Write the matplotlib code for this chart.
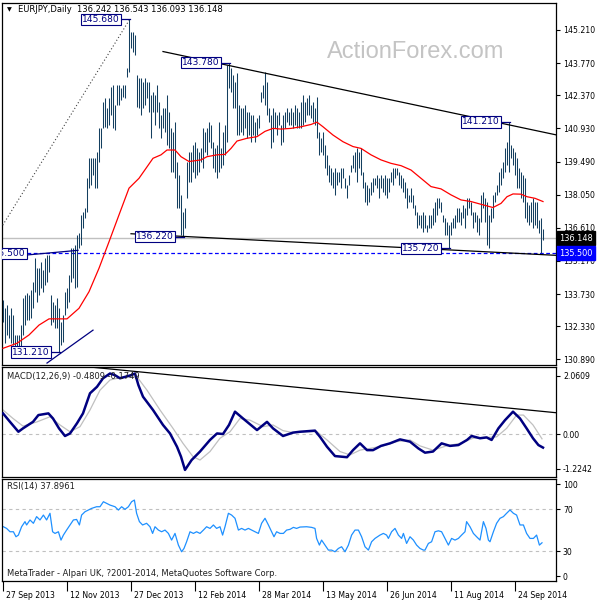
import matplotlib
matplotlib.use('Agg')
from matplotlib import pyplot as plt
from matplotlib.transforms import blended_transform_factory, ScaledTranslation

plt.rcParams['font.family'] = ['DejaVu Sans']

# daily bars (high / low), 27 Sep 2013 .. mid Oct 2014
highs = [
    133.47, 133.11, 133.25, 132.82, 133.11, 132.82, 131.95, 131.95, 131.95, 132.38,
    133.54, 133.69, 133.76, 133.69, 133.91, 134.27, 135.28, 134.85, 134.85, 135.14,
    134.78, 135.28, 135.43, 135.43, 133.69, 133.40, 133.25, 133.54, 133.11, 132.53,
    132.82, 133.83, 133.98, 134.56, 135.72, 135.72, 135.86, 136.30, 136.37, 137.17,
    137.31, 137.46, 138.76, 139.63, 139.63, 139.63, 139.63, 139.92, 140.93, 140.93,
    142.09, 142.24, 141.80, 142.24, 142.75, 142.82, 141.95, 142.82, 142.82, 142.67,
    142.82, 142.82, 143.54, 145.68, 145.14, 145.14, 144.99, 143.25, 143.11,
    143.11, 142.96, 143.11, 142.96, 142.96, 142.38, 142.53, 142.38, 142.82, 142.09,
    141.51, 141.80, 141.80, 142.38, 141.66, 140.93, 140.79, 141.22, 139.49, 138.91,
    138.04, 137.31, 137.46, 139.49, 139.92, 139.92, 140.21, 140.35, 140.06, 139.92,
    140.06, 140.93, 140.79, 140.93, 141.22, 141.08, 140.35, 140.06, 140.21, 141.22,
    140.06, 140.79, 141.08, 143.69, 143.78, 143.54, 143.25, 142.96, 143.33, 141.95,
    141.80, 141.80, 141.95, 141.66, 141.66, 141.51, 141.51, 141.22, 141.37, 141.51,
    142.53, 142.82, 143.40, 142.96, 141.80, 141.51, 141.80, 141.66, 141.51, 141.66,
    141.08, 141.51, 141.66, 141.80, 141.66, 141.80, 141.66, 141.95, 141.80, 141.66,
    142.09, 142.38, 142.09, 142.24, 142.38, 141.95, 142.09, 141.80, 142.31, 140.79,
    140.50, 140.79, 140.21, 139.78, 139.34, 139.20, 139.05, 139.20, 139.05, 139.05,
    139.20, 139.20, 138.76, 138.47, 138.91, 139.34, 139.78, 139.92, 140.06, 139.92,
    140.06, 139.05, 138.62, 138.47, 138.33, 138.62, 138.76, 138.76, 138.91, 138.76,
    138.91, 138.76, 138.91, 138.76, 138.76, 139.05, 139.20, 139.20, 139.20, 139.05,
    138.91, 138.76, 138.62, 138.33, 138.04, 138.33, 138.04, 137.60, 137.31, 137.17,
    137.17, 137.31, 137.17, 136.73, 137.17, 137.17, 137.46, 137.75, 137.89, 137.89,
    137.75, 137.17, 137.02, 136.88, 136.73, 136.88, 137.02, 137.17, 137.46, 137.46,
    137.31, 137.60, 137.46, 137.89, 137.89, 137.75, 137.31, 137.31, 137.17, 137.02,
    138.04, 138.18, 137.89, 137.75, 137.17, 137.46, 138.04, 138.18, 138.47, 139.05,
    139.20, 139.49, 140.06, 140.35, 141.21, 140.21, 140.06, 139.92, 139.63, 139.20,
    139.05, 138.91, 138.76, 137.75, 137.60, 137.75, 137.89, 137.75, 137.75, 136.95,
    137.04, 136.54,
]
lows = [
    132.53, 131.59, 131.95, 131.80, 131.59, 131.51, 131.37, 131.37, 131.44, 131.37,
    131.95, 132.38, 132.60, 132.60, 132.67, 133.11, 133.83, 133.40, 133.69, 133.98,
    133.83, 134.12, 134.27, 134.70, 132.38, 132.53, 132.24, 132.24, 131.21, 131.51,
    131.66, 132.82, 133.11, 133.40, 134.27, 134.41, 133.98, 134.05, 135.72, 135.86,
    136.59, 137.02, 137.31, 138.33, 138.47, 138.91, 138.33, 138.33, 139.49, 140.06,
    140.93, 141.01, 140.93, 141.08, 141.51, 140.93, 140.86, 141.95, 141.95, 142.17,
    142.31, 142.24, 143.18, 143.40, 144.41, 144.27, 144.12, 141.88, 141.80,
    141.51, 141.80, 141.95, 142.24, 141.66, 140.50, 141.66, 141.08, 141.66, 140.93,
    140.50, 140.93, 140.79, 140.21, 140.06, 139.05, 139.05, 138.76, 137.46, 137.46,
    136.30, 136.22, 136.59, 137.89, 138.62, 138.62, 139.05, 138.76, 138.91, 139.05,
    139.49, 139.20, 139.92, 139.78, 140.35, 140.06, 139.20, 139.05, 138.76, 139.05,
    139.20, 139.34, 139.78, 140.35, 142.67, 142.53, 141.80, 141.80, 140.64, 140.64,
    140.79, 140.64, 140.93, 140.50, 140.64, 140.35, 140.64, 140.35, 140.64, 140.93,
    142.09, 142.24, 141.95, 141.51, 141.22, 140.06, 140.35, 140.93, 140.64, 141.08,
    140.21, 140.35, 140.93, 141.22, 141.08, 141.08, 140.93, 141.08, 140.93, 140.93,
    140.93, 141.08, 141.22, 141.51, 141.51, 141.37, 141.22, 141.08, 140.50, 139.78,
    139.92, 139.78, 139.20, 138.91, 138.62, 138.47, 138.33, 138.04, 138.47, 138.62,
    138.33, 138.76, 138.33, 137.89, 138.47, 139.05, 139.20, 139.05, 138.62, 139.20,
    138.91, 138.33, 137.75, 137.60, 137.75, 138.04, 138.18, 138.47, 138.33, 137.89,
    138.33, 138.18, 138.04, 137.89, 138.18, 138.62, 138.47, 138.76, 138.91, 138.47,
    138.33, 138.18, 137.89, 137.46, 137.75, 137.75, 137.46, 137.17, 136.59, 136.73,
    136.59, 136.44, 136.59, 136.44, 136.59, 136.59, 136.73, 136.88, 137.17, 137.46,
    137.31, 136.88, 136.30, 136.30, 135.72, 136.30, 136.59, 136.59, 136.88, 136.88,
    136.73, 137.02, 136.59, 137.17, 137.46, 137.17, 136.59, 136.88, 136.44, 136.30,
    136.88, 137.46, 136.88, 135.86, 135.72, 136.88, 137.02, 137.75, 138.04, 138.18,
    138.47, 138.76, 139.05, 139.34, 139.05, 139.63, 139.34, 138.91, 138.33, 138.33,
    137.89, 137.75, 137.02, 136.88, 136.73, 136.88, 136.59, 136.73, 136.59, 136.38,
    135.50, 136.09,
]

# red moving average
ma_x = [0, 7, 13, 18, 23, 32, 38, 43, 48, 53, 58, 63, 68, 75, 79, 82, 86, 89, 93, 99,
        102, 107, 111, 114, 117, 122, 127, 131, 135, 139, 144, 149, 154, 157, 160, 165,
        170, 175, 179, 184, 189, 194, 199, 204, 209, 214, 219, 224, 229, 234, 239, 242,
        245, 249, 252, 255, 259, 262, 266, 270]
ma_y = [131.37, 131.59, 131.95, 132.38, 132.65, 132.65, 133.11, 133.83, 134.85, 136.0,
        137.17, 138.33, 138.76, 139.63, 139.78, 139.99, 139.99, 139.70, 139.49, 139.56,
        139.70, 139.78, 139.80, 140.06, 140.38, 140.50, 140.57, 140.80, 140.93, 140.90,
        140.93, 141.0, 141.1, 141.2, 141.0, 140.64, 140.35, 140.14, 140.06, 139.78,
        139.56, 139.41, 139.31, 139.12, 138.76, 138.40, 138.30, 138.04, 137.82, 137.75,
        137.63, 137.56, 137.49, 137.67, 137.96, 138.08, 138.07, 137.96, 137.89, 137.75]

# MACD(12,26,9)
macd_x = [0, 3.5, 7.7, 10, 15, 17.7, 22.7, 25, 28, 31, 33.5, 37, 40, 43.5, 47, 50, 53.5,
          56, 58.5, 61, 64, 66, 67.7, 70, 75, 80, 83.5, 87, 89, 91, 94.3, 98.5, 103.5,
          107, 110, 113, 116, 120, 127, 132, 135, 140, 145, 148.5, 156, 158.5, 162, 166,
          172, 175, 178.5, 182, 185, 189, 193.5, 198.5, 203.5, 207.7, 211, 215, 219.3,
          223.5, 227.7, 232, 234.3, 238.5, 241.8, 244.3, 247.7, 251, 255, 258.5, 261.8,
          265, 267.7, 270]
macd_main = [0.73, 0.43, 0.08, 0.2, 0.43, 0.67, 0.73, 0.55, 0.2, -0.07, 0.02, 0.38, 0.73,
             1.44, 1.67, 1.97, 2.14, 2.08, 1.97, 2.02, 2.08, 2.14, 1.73, 1.32, 0.85, 0.32,
             0.02, -0.45, -0.8, -1.27, -0.92, -0.62, -0.21, 0.02, 0.0, 0.32, 0.79, 0.55,
             0.14, 0.43, 0.2, -0.07, 0.05, 0.08, 0.12, -0.1, -0.45, -0.78, -0.82, -0.57,
             -0.33, -0.57, -0.57, -0.42, -0.33, -0.19, -0.27, -0.51, -0.66, -0.62, -0.33,
             -0.42, -0.39, -0.21, -0.07, -0.15, -0.12, -0.21, 0.2, 0.49, 0.79, 0.55, 0.2,
             -0.15, -0.39, -0.48]
sig_x = [0, 5, 10, 17, 23.5, 28.5, 33.5, 38.5, 43.5, 48.5, 53.5, 60, 67, 72, 78.5, 85, 90,
         95, 98.5, 103.5, 108.5, 113.5, 118.5, 123.5, 130, 135, 140, 145, 148.5, 157, 162,
         168.5, 173.5, 178.5, 183.5, 190, 196.8, 203.5, 208.5, 215, 221.8, 228.5, 235,
         241.8, 246.8, 251.8, 256.8, 260.2, 265, 269.5]
macd_signal = [0.85, 0.55, 0.28, 0.43, 0.61, 0.32, 0.08, 0.26, 0.85, 1.55, 1.91, 2.02, 2.02,
               1.55, 0.85, 0.2, -0.33, -0.8, -0.92, -0.62, -0.15, 0.08, 0.55, 0.49, 0.26,
               0.32, 0.12, 0.05, 0.08, 0.08, -0.21, -0.62, -0.74, -0.57, -0.51, -0.42,
               -0.27, -0.21, -0.42, -0.57, -0.42, -0.33, -0.15, -0.12, -0.1, 0.2, 0.67,
               0.67, 0.32, -0.17]

# RSI(14)
rsi_x = [0.2, 1.8, 3.5, 5.2, 6.5, 7.7, 9.3, 11, 11.8, 13.5, 15.2, 16.8, 18.5, 20.2, 21.8,
         23.5, 24.8, 26, 27.7, 29, 30.2, 31.8, 33.5, 35.2, 36.8, 38.2, 39.3, 41, 42.7, 44.3,
         46.8, 48.5, 50.2, 51.8, 53.5, 56, 57.7, 59.3, 61, 62.7, 64.3, 65.7, 66.8, 68.2,
         69.8, 71.8, 73.5, 74.8, 76, 77.7, 79.3, 81, 82.7, 84.3, 86, 87.7, 89.3, 90.5, 91.8,
         93.5, 95.2, 96.8, 98.5, 100.2, 101.8, 103.5, 105.2, 106.8, 108.5, 109.8, 111,
         112.7, 114.3, 116, 117.7, 119.3, 121, 122.7, 124.3, 126, 127.7, 129.3, 131, 132.7,
         134.3, 135.5, 136.8, 138.5, 140.2, 141.8, 143.5, 145.2, 146.8, 148.5,
         151.8, 154.3, 156, 156.8, 158.2, 159.3, 161, 162.7, 164.3, 166, 167.7, 169.3, 171,
         172.7, 174.3, 176, 177.7, 179.3, 181, 182.7, 184.3, 186, 188.5, 190.2, 191.8,
         192.7, 194.3, 196, 197.7, 199.3, 200.2, 201.8, 203.5, 205.2, 206.8, 208.5, 210.2,
         211, 212.7, 214.3, 216, 217.7, 219.3, 221, 222.7, 224.3, 226, 227.7, 229.3, 231,
         231.8, 233.5, 235.2, 236.8, 238.5, 240.2, 241.5, 242.7, 243.5, 245.2, 246.8,
         248.5, 250.2, 251.8, 253.5, 255.2, 256.8, 258.5, 260.2, 261.8, 263.5, 265.2,
         266.8, 268.2, 269.5]
rsi_val = [53.3, 51.7, 48.5, 48.5, 43.7, 45.3, 53.3, 58.2, 55, 59.8, 56.6, 63, 59.8, 64.5,
           59.8, 66.2, 48.5, 46.9, 48.5, 40.5, 45.3, 50.1, 55, 59.8, 60.3, 55, 64.5, 67.7,
           69.3, 70.9, 72.5, 72.5, 77.3, 75.7, 74.1, 72.5, 69.3, 72.5, 70, 72.5, 77.3, 78.9,
           66.2, 58.2, 55, 56.6, 53.3, 46.9, 53.3, 50.1, 48.5, 50.1, 46.9, 40.5, 46.9, 35.7,
           29.3, 32.5, 38.9, 48.5, 46.9, 48.5, 46.9, 50.1, 53.3, 51.7, 55, 51.7, 53.3, 45.3,
           53.3, 66.2, 64.5, 61.4, 50.1, 51.7, 50.1, 51.7, 50.1, 48.5, 46.9, 56.6, 61.4, 55,
           48.5, 43.7, 48.5, 46.9, 46.9, 50.1, 50.8, 52.7, 51.7, 53,
           53.3, 52.7, 51.7, 42.1, 35.7, 40.5, 35.7, 30.9, 30.9, 29.3, 32.5, 34.1, 29.3,
           35.7, 45.3, 50.1, 50.1, 43.7, 34.1, 30.9, 38.9, 42.1, 45.3, 46.9, 45.3, 42.1,
           48.5, 51.7, 45.3, 42.1, 46.9, 37.3, 43.7, 40.5, 35.7, 32.5, 30.9, 30.9, 37.3,
           38.9, 48.5, 49.4, 48.5, 42.1, 35.7, 42.1, 40.5, 42.1, 45.3, 48.5, 58.2, 53.3,
           46.9, 43.7, 40.5, 58.2, 51.7, 40.5, 38.9, 48.5, 56.6, 61.4, 63, 66.2, 69.4, 66.2,
           64.5, 55, 55, 46.9, 42.1, 42.1, 45.3, 35.7, 37.9]

price_ticks = [145.210, 143.770, 142.370, 140.930, 139.490, 138.050, 136.610,
               135.170, 133.730, 132.330, 130.890]
date_pos = [0, 32, 64, 96, 128, 160, 192, 224, 256]
date_labels = ['27 Sep 2013', '12 Nov 2013', '27 Dec 2013', '12 Feb 2014', '28 Mar 2014',
               '13 May 2014', '26 Jun 2014', '11 Aug 2014', '24 Sep 2014']

# swing high/low labels: value, bar it points at
swing_vals = [145.68, 143.78, 141.21, 136.22, 135.72, 131.21]
swing_bars = [63, 113, 253, 90, 223, 28]

last_price = 136.148
support = 135.50

NAVY = '#000080'
BAR = '#143f60'

fig = plt.figure(figsize=(6, 6), dpi=100, facecolor='white')
ax = fig.add_axes([2/600, 235/600, 554/600, 362/600])
ax2 = fig.add_axes([2/600, 123/600, 554/600, 110/600], sharex=ax)
ax3 = fig.add_axes([2/600, 19/600, 554/600, 102/600], sharex=ax)

for a in (ax, ax2, ax3):
    for s in a.spines.values():
        s.set_linewidth(0.9)
        s.set_color('black')
    a.yaxis.tick_right()
    a.tick_params(axis='y', length=3, width=0.8, pad=2, labelsize=5.6)
    a.tick_params(axis='x', bottom=False, labelbottom=False)

# ---- price panel
ax.axhline(last_price, color='#c0c0c0', lw=1, zorder=1)
ax.axhline(support, color='#0000ff', lw=0.9, ls=(0, (3, 2)), zorder=2)
ax.vlines(range(len(highs)), lows, highs, color=BAR, lw=0.75, zorder=3)
ax.plot(ma_x, ma_y, color='red', lw=0.9, zorder=4)

# trend lines
ax.plot([80, 277], [144.27, 140.64], color='black', lw=0.9, zorder=4)
ax.plot([64, 277], [136.35, 135.41], color='black', lw=0.9, zorder=4)
ax.plot([-1, 63], [136.6, 145.62], color='#404040', lw=0.8, ls=(0, (1, 2)), zorder=4)
ax.plot([-1.5, 37.5], [135.32, 135.63], color=NAVY, lw=0.9, zorder=4)
ax.plot([22, 45], [130.73, 132.16], color=NAVY, lw=0.9, zorder=4)

for v, b in zip(swing_vals, swing_bars):
    ax.plot([b - 4.5, b + 0.5], [v, v], color=NAVY, lw=0.9, zorder=5)
    ax.text(b - 4.5, v, f'{v:.3f}', ha='right', va='center', color=NAVY, fontsize=6.6,
            zorder=6, bbox=dict(boxstyle='square,pad=0.12', fc='white', ec=NAVY, lw=0.8))
# support label, partly hidden behind the left edge as in the original
ax.text(11.2, support, f'{support:.3f}', ha='right', va='center', color=NAVY, fontsize=6.6,
        zorder=6, clip_on=True,
        bbox=dict(boxstyle='square,pad=0.12', fc='white', ec=NAVY, lw=0.8))

ax.set_ylim(130.645, 146.38)
ax.set_xlim(-0.5, 276.5)
ax.set_yticks(price_ticks)
ax.set_yticklabels([f'{t:.3f}' for t in price_ticks])

tr = blended_transform_factory(ax.transAxes, ax.transData)
ax.text(1.0055, last_price, f'{last_price:.3f}', transform=tr, ha='left', va='center',
        color='white', fontsize=5.9, clip_on=False, zorder=10,
        bbox=dict(boxstyle='square,pad=0.3', fc='black', ec='black'))
ax.text(1.0055, support, f'{support:.3f}', transform=tr, ha='left', va='center',
        color='white', fontsize=5.9, clip_on=False, zorder=10,
        bbox=dict(boxstyle='square,pad=0.3', fc='#0000ff', ec='#0000ff'))

ax.text(0.009, 0.981, '\u25bc', transform=ax.transAxes, fontsize=4.5, va='center', ha='left')
ax.text(0.029, 0.981, 'EURJPY,Daily  136.242 136.543 136.093 136.148', transform=ax.transAxes,
        fontsize=6.0, va='center', ha='left')
ax.text(0.747, 0.866, 'ActionForex.com', transform=ax.transAxes, fontsize=17,
        family='Liberation Sans', color='#c4c4c4', ha='center', va='center', zorder=0)

# ---- MACD panel
ax2.axhline(0, color='#c0c0c0', lw=0.8, ls=(0, (3, 3)), zorder=1)
ax2.plot(sig_x, macd_signal, color='#c0c0c0', lw=0.9, zorder=2)
ax2.plot(macd_x, macd_main, color=NAVY, lw=1.8, zorder=3)
ax2.plot([42, 277], [2.38, 0.75], color='black', lw=0.9, zorder=4)
ax2.set_ylim(-1.52, 2.37)
ax2.set_yticks([2.0609, 0.0, -1.2242])
ax2.set_yticklabels(['2.0609', '0.00', '-1.2242'])
ax2.text(0.009, 0.918, 'MACD(12,26,9) -0.4809 -0.1749', transform=ax2.transAxes,
         fontsize=6.0, va='center', ha='left', color='#202020', zorder=5)

# ---- RSI panel
for lvl in (70, 30):
    ax3.axhline(lvl, color='#c0c0c0', lw=0.8, ls=(0, (3, 3)), zorder=1)
ax3.plot(rsi_x, rsi_val, color='#1e90ff', lw=0.9, zorder=2)
ax3.set_ylim(1.25, 99.1)
ax3.set_yticks([94.3, 70, 30, 6])
ax3.set_yticklabels(['100', '70', '30', '0'])
ax3.text(0.009, 0.931, 'RSI(14) 37.8961', transform=ax3.transAxes,
         fontsize=6.0, va='center', ha='left', color='#202020')
ax3.text(0.009, 0.069, 'MetaTrader - Alpari UK, ?2001-2014, MetaQuotes Software Corp.',
         transform=ax3.transAxes, fontsize=6.0, va='center', ha='left', color='#202020')

ax3.set_xticks(date_pos)
ax3.set_xticklabels(date_labels)
ax3.tick_params(axis='x', bottom=True, labelbottom=True, length=7, width=0.8, pad=0,
                labelsize=5.6)
off = ScaledTranslation(3/100, 0, fig.dpi_scale_trans)
for lab in ax3.get_xticklabels():
    lab.set_horizontalalignment('left')
    lab.set_transform(lab.get_transform() + off)

fig.savefig('out.png', dpi=100, facecolor='white')
